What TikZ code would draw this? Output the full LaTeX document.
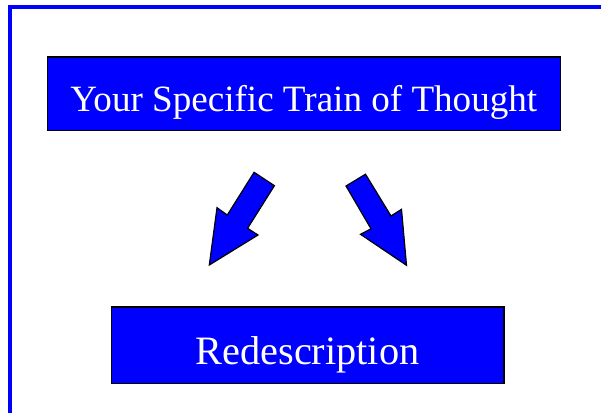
\documentclass[tikz,border=0pt]{standalone}
\usepackage{fontspec}
\setmainfont{Liberation Serif}
\begin{document}
\begin{tikzpicture}[x=1pt,y=-1pt,
  bluebox/.style={draw=black,line width=1.6pt,fill=blue,rectangle,inner sep=0pt},
  boxtext/.style={text=white,anchor=base,inner sep=0pt},
  blockarrow/.style={draw=black,line width=1.2pt,fill=blue,line join=miter}]
\useasboundingbox (0,0) rectangle (601,412);
\clip (0,0) rectangle (601,412);
% frame
\draw[blue,line width=4pt] (10,420) -- (10,7.5) -- (610,7.5);
% boxes
\node[bluebox,minimum width=513pt,minimum height=73.6pt] (top) at (304,93.5) {};
\node[boxtext,font=\fontsize{37.1}{40}\selectfont] (toptext) at (303.8,111.7) {Your Specific Train of Thought};
\node[bluebox,minimum width=392.5pt,minimum height=76.6pt] (bot) at (307.7,345) {};
\node[boxtext,font=\fontsize{40.3}{44}\selectfont] (bottext) at (307.5,364.5) {Redescription};
% arrows
\draw[blockarrow] (254.1,172.3) -- (274.4,185.7) -- (247.6,228.3) -- (258,235) -- (209.3,265) -- (217,207.7) -- (227.3,215) -- cycle;
\draw[blockarrow] (365.5,174.2) -- (346,186) -- (371,228.8) -- (360.5,234.3) -- (406.5,265.3) -- (401.5,209.3) -- (391,216) -- cycle;
\end{tikzpicture}
\end{document}
